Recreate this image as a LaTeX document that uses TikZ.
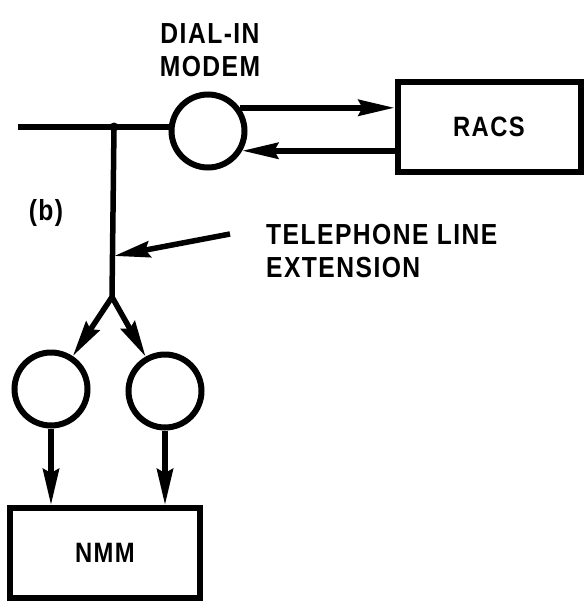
\documentclass[tikz,border=0pt]{standalone}
\usepackage{fontspec}
\setmainfont{Liberation Sans}
\newfontfamily\lblfont[LetterSpace=5,FakeStretch=0.85]{Liberation Sans}
\usetikzlibrary{arrows.meta}
\begin{document}
\begin{tikzpicture}[x=1pt,y=-1pt,
  ln/.style={line width=5.5pt},
  arr/.style={line width=5.5pt,-{Stealth[length=36pt,width=16pt,inset=4pt]}},
  modem/.style={draw,circle,line width=6pt,minimum size=73pt,inner sep=0pt},
  blk/.style={draw,rectangle,line width=6pt,inner sep=0pt,font=\lblfont\bfseries\fontsize{28}{32}\selectfont},
  lbl/.style={font=\lblfont\bfseries\fontsize{29}{33}\selectfont,inner sep=0pt}]
\useasboundingbox (0,0) rectangle (585,603);
% nodes
\node[modem] (dm) at (208,131) {};
\node[blk, minimum width=183pt, minimum height=90pt] (racs) at (489,127) {RACS};
\node[modem] (c1) at (51,389) {};
\node[modem] (c2) at (165,391) {};
\node[blk, minimum width=190pt, minimum height=90pt] (nmm) at (105,553) {NMM};
\coordinate (lend) at (18,127);
\coordinate (J) at (114,127);
\coordinate (S) at (112,297);
\coordinate (T) at (230,234);
\coordinate (Tp) at (114,256);
% labels
\node[lbl, align=center] (dial) at (210,50) {DIAL-IN\\MODEM};
\node[lbl, align=left, anchor=west] (tel) at (266,251) {TELEPHONE LINE\\EXTENSION};
\node[lbl] (b) at (46,213) {(b)};
% connectors
\draw[ln] (lend) -- (lend -| dm.west);
\fill (J) circle (4.5pt);
\draw[ln] (J) -- (S);
\draw[arr] (dm.36) -- (dm.36 -| racs.west);
\draw[arr] (racs.west |- dm.-30) -- (dm.-30);
\draw[arr] (T) -- (Tp);
\draw[arr] (S) -- (c1);
\draw[arr] (S) -- (c2);
\draw[arr] (c1.south) -- (c1.south |- nmm.north);
\draw[arr] (c2.south) -- (c2.south |- nmm.north);
\end{tikzpicture}
\end{document}
